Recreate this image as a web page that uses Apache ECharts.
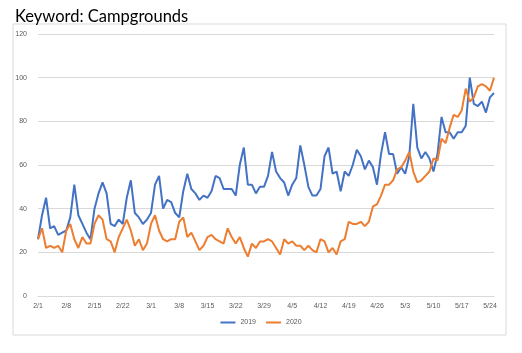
<!DOCTYPE html>
<html>
<head>
<meta charset="utf-8">
<script src="https://cdn.jsdelivr.net/npm/echarts@6/dist/echarts.min.js"></script>
<style>
  html, body { margin: 0; padding: 0; background: #fff; }
  #chart { width: 522px; height: 353px; }
</style>
</head>
<body>
<div id="chart"></div>
<script>
// daily categories, 2/1 .. 5/25
var categories = [
  '2/1','2/2','2/3','2/4','2/5','2/6','2/7','2/8','2/9','2/10','2/11','2/12','2/13','2/14',
  '2/15','2/16','2/17','2/18','2/19','2/20','2/21','2/22','2/23','2/24','2/25','2/26','2/27','2/28',
  '3/1','3/2','3/3','3/4','3/5','3/6','3/7','3/8','3/9','3/10','3/11','3/12','3/13','3/14',
  '3/15','3/16','3/17','3/18','3/19','3/20','3/21','3/22','3/23','3/24','3/25','3/26','3/27','3/28',
  '3/29','3/30','3/31','4/1','4/2','4/3','4/4','4/5','4/6','4/7','4/8','4/9','4/10','4/11',
  '4/12','4/13','4/14','4/15','4/16','4/17','4/18','4/19','4/20','4/21','4/22','4/23','4/24','4/25',
  '4/26','4/27','4/28','4/29','4/30','5/1','5/2','5/3','5/4','5/5','5/6','5/7','5/8','5/9',
  '5/10','5/11','5/12','5/13','5/14','5/15','5/16','5/17','5/18','5/19','5/20','5/21','5/22','5/23',
  '5/24','5/25'
];

var tickLabels = ['2/1','2/8','2/15','2/22','3/1','3/8','3/15','3/22','3/29','4/5','4/12','4/19','4/26','5/3','5/10','5/17','5/24'];

var yTicks = [0, 20, 40, 60, 80, 100, 120];

var values2019 = [
  26, 37, 45, 31, 32, 28, 29, 30, 36, 51, 37, 33, 29, 26,
  40, 47, 52, 47, 33, 32, 35, 33, 45, 53, 38, 36, 33, 35,
  38, 51, 55, 40, 44, 43, 38, 36, 48, 56, 49, 47, 44, 46,
  45, 48, 55, 54, 49, 49, 49, 46, 60, 68, 51, 51, 47, 50,
  50, 55, 66, 57, 54, 52, 46, 51, 54, 69, 60, 50, 46, 46,
  49, 64, 68, 56, 57, 48, 57, 55, 60, 67, 64, 58, 62, 59,
  51, 65, 75, 65, 65, 56, 59, 56, 64, 88, 68, 63, 66, 63,
  57, 65, 82, 75, 75, 72, 75, 75, 78, 100, 88, 87, 89, 84,
  91, 93
];

var values2020 = [
  26, 31, 22, 23, 22, 23, 20, 30, 33, 26, 22, 27, 24, 24,
  33, 37, 35, 26, 25, 20, 27, 31, 35, 30, 23, 26, 21, 24,
  33, 37, 30, 26, 25, 26, 26, 34, 36, 27, 29, 25, 21, 23,
  27, 28, 26, 25, 24, 31, 27, 24, 27, 22, 18, 24, 22, 25,
  25, 26, 25, 22, 19, 26, 24, 25, 23, 23, 21, 23, 21, 20,
  26, 25, 20, 22, 19, 25, 26, 34, 33, 33, 34, 32, 34, 41,
  42, 46, 51, 51, 53, 58, 59, 62, 66, 57, 52, 53, 55, 57,
  63, 62, 72, 70, 77, 83, 82, 85, 95, 89, 91, 96, 97, 96,
  94, 100
];

var chart = echarts.init(document.getElementById('chart'));

var option = {
  animation: false,
  backgroundColor: '#fff',
  title: {
    text: 'Keyword: Campgrounds',
    left: 10,
    top: 3,
    textStyle: { fontFamily: 'Lato', fontSize: 16.5, fontWeight: 'normal', color: '#000' }
  },
  graphic: [
    {
      type: 'rect',
      shape: { x: 13, y: 24, width: 493, height: 311 },
      style: { fill: 'none', stroke: '#d9d9d9', lineWidth: 1 },
      silent: true
    }
  ],
  grid: { left: 38, right: 28, top: 34, bottom: 57 },
  legend: {
    bottom: 22,
    left: 'center',
    itemWidth: 15,
    itemHeight: 2,
    itemGap: 10,
    icon: 'rect',
    textStyle: { fontSize: 7, color: '#595959', fontFamily: 'Liberation Sans' },
    data: ['2019', '2020']
  },
  xAxis: {
    type: 'category',
    data: categories,
    boundaryGap: false,
    axisLine: { lineStyle: { color: '#d9d9d9' } },
    axisTick: { show: false },
    axisLabel: {
      interval: function (i, v) { return tickLabels.indexOf(v) >= 0; },
      fontSize: 7,
      color: '#595959',
      margin: 7,
      fontFamily: 'Liberation Sans'
    },
    splitLine: { show: false }
  },
  yAxis: {
    type: 'value',
    min: yTicks[0],
    max: yTicks[yTicks.length - 1],
    interval: 20,
    axisLine: { show: false },
    axisTick: { show: false },
    axisLabel: { fontSize: 7, color: '#595959', margin: 11, fontFamily: 'Liberation Sans' },
    splitLine: { lineStyle: { color: '#d9d9d9', width: 1 } }
  },
  series: [
    {
      name: '2019',
      type: 'line',
      data: values2019,
      showSymbol: false,
      symbol: 'none',
      lineStyle: { color: '#4472c4', width: 2 },
      itemStyle: { color: '#4472c4' }
    },
    {
      name: '2020',
      type: 'line',
      data: values2020,
      showSymbol: false,
      symbol: 'none',
      lineStyle: { color: '#ed7d31', width: 2 },
      itemStyle: { color: '#ed7d31' }
    }
  ]
};

chart.setOption(option);
</script>
</body>
</html>
